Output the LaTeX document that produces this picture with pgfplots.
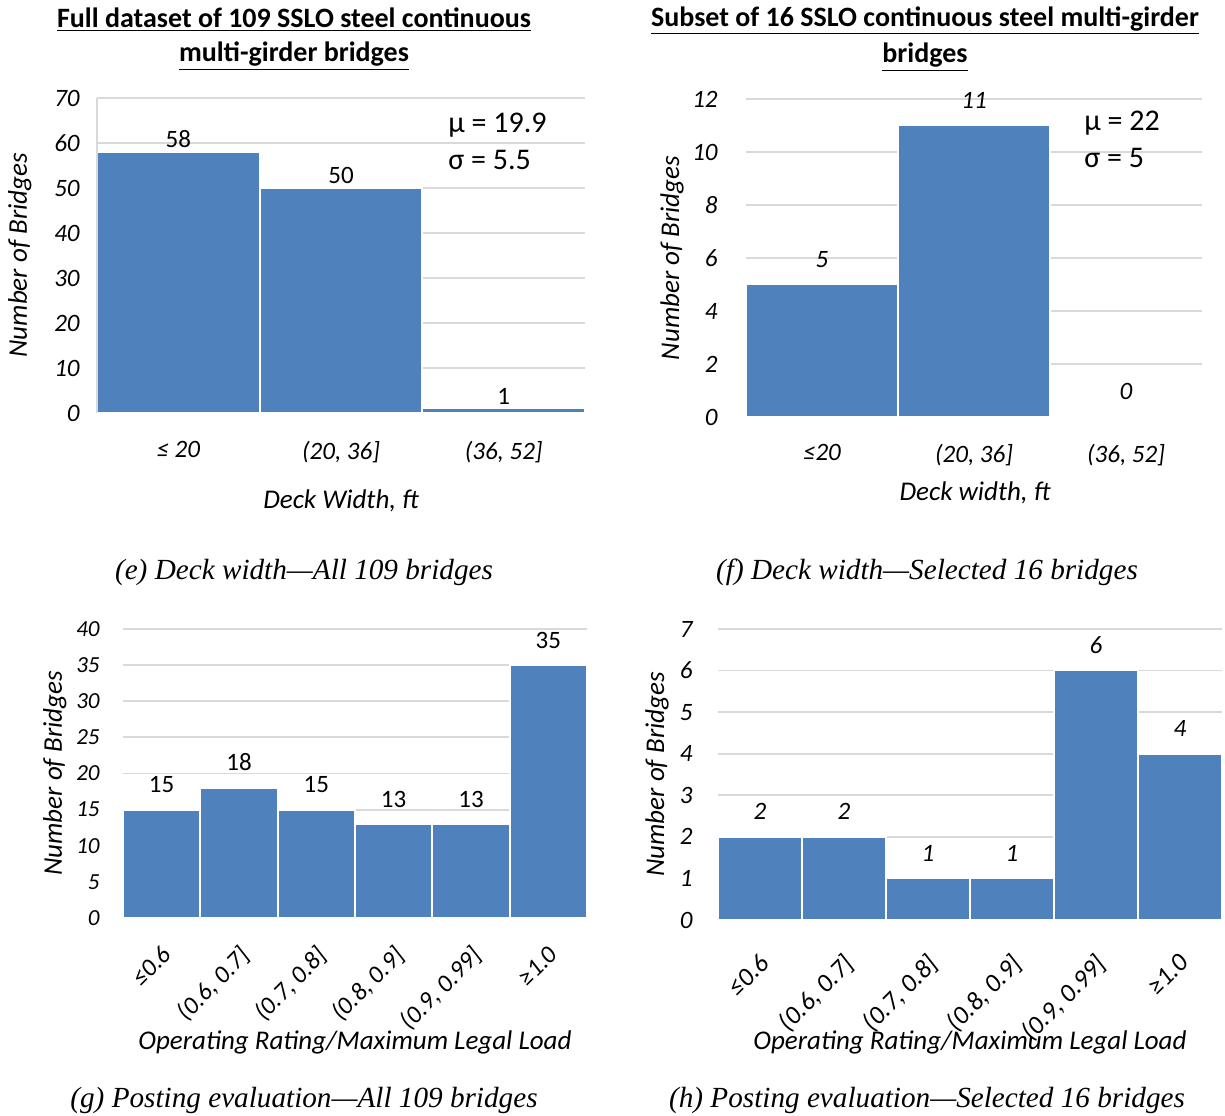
\documentclass[border=0pt]{standalone}
\usepackage{pgfplots}
\pgfplotsset{compat=1.18}
\usepackage{fontspec}
\setmainfont{Carlito}
\newfontfamily\capfont{Liberation Serif}
\definecolor{barblue}{RGB}{79,129,189}
\definecolor{gridgray}{RGB}{217,217,217}
\newcommand{\fs}[1]{\fontsize{#1}{#1}\selectfont}

\pgfplotsset{
  hist/.style={
    scale only axis,
    anchor=north west,
    ybar, bar width=1, bar shift=0pt,
    ymin=0,
    axis line style={draw=none},
    major tick length=0pt,
    ymajorgrids, grid style={gridgray, line width=0.9pt},
    xtick=data,
    /pgf/number format/assume math mode=true,
    tick label style={inner sep=0pt},
    yticklabel style={anchor=east},
    nodes near coords,
    every node near coord/.append style={anchor=south, inner sep=0pt, black},
    label style={font=\fs{13.5}\itshape},
    clip=false,
  },
  barstyle/.style={fill=barblue, draw=white, line width=0.9pt},
}

\begin{document}
\begin{tikzpicture}
\useasboundingbox (0,0) rectangle (612.5pt,-557.5pt);

% (e)
\begin{axis}[hist,
  at={(48.5pt,-49pt)}, width=244pt, height=157.5pt,
  ymax=70, ytick={0,10,...,70},
  xmin=-0.5, xmax=2.5,
  xticklabels={≤ 20,{(20, 36]},{(36, 52]}},
  yticklabel style={font=\fs{12.5}\itshape, xshift=-8.5pt},
  xticklabel style={font=\fs{12.5}\itshape, anchor=north, yshift=-14pt},
  every node near coord/.append style={font=\fs{12.5}, yshift=1.5pt},
  ylabel={Number of Bridges},
  ylabel style={at={(axis description cs:-0.158,0.5)}, anchor=center},
  xlabel={Deck Width, ft},
  xlabel style={at={(axis description cs:0.5,-0.28)}, anchor=center},
]
\addplot[barstyle] coordinates {(0,58) (1,50) (2,1)};
\draw[gridgray, line width=0.9pt] (rel axis cs:0,0) -- (rel axis cs:0,1);
\end{axis}

% (f)
\begin{axis}[hist,
  at={(373pt,-49.5pt)}, width=228pt, height=159pt,
  ymax=12, ytick={0,2,...,12},
  xmin=-0.5, xmax=2.5,
  xticklabels={≤20,{(20, 36]},{(36, 52]}},
  yticklabel style={font=\fs{12.5}\itshape, xshift=-14pt},
  xticklabel style={font=\fs{12.5}\itshape, anchor=north, yshift=-13.5pt},
  every node near coord/.append style={font=\fs{12.5}\itshape, yshift=8pt},
  ylabel={Number of Bridges},
  ylabel style={at={(axis description cs:-0.162,0.5)}, anchor=center},
  xlabel={Deck width, ft},
  xlabel style={at={(axis description cs:0.502,-0.24)}, anchor=center},
]
\addplot[barstyle] coordinates {(0,5) (1,11) (2,0)};
\end{axis}

% (g)
\begin{axis}[hist,
  at={(61.5pt,-314.5pt)}, width=232pt, height=144.5pt,
  ymax=40, ytick={0,5,...,40},
  xmin=-0.5, xmax=5.5,
  xticklabels={≤0.6,{(0.6, 0.7]},{(0.7, 0.8]},{(0.8, 0.9]},{(0.9, 0.99]},≥1.0},
  yticklabel style={font=\fs{11.5}\itshape, xshift=-11.5pt},
  xticklabel style={font=\fs{12.5}\itshape, xshift=-0.5pt, yshift=-13pt, rotate=45, anchor=north east},
  every node near coord/.append style={font=\fs{12.5}, yshift=8pt},
  ylabel={Number of Bridges},
  ylabel style={at={(axis description cs:-0.147,0.5)}, anchor=center},
  xlabel={Operating Rating/Maximum Legal Load},
  xlabel style={at={(axis description cs:0.5,-0.432)}, anchor=center},
]
\addplot[barstyle] coordinates {(0,15) (1,18) (2,15) (3,13) (4,13) (5,35)};
\end{axis}

% (h)
\begin{axis}[hist,
  at={(359pt,-314.5pt)}, width=252pt, height=145.5pt,
  ymax=7, ytick={0,1,...,7},
  xmin=-0.5, xmax=5.5,
  xticklabels={≤0.6,{(0.6, 0.7]},{(0.7, 0.8]},{(0.8, 0.9]},{(0.9, 0.99]},≥1.0},
  yticklabel style={font=\fs{12.5}\itshape, xshift=-12.5pt},
  xticklabel style={font=\fs{13}\itshape, xshift=-1pt, yshift=-16pt, rotate=45, anchor=north east},
  every node near coord/.append style={font=\fs{12.5}\itshape, yshift=8pt},
  ylabel={Number of Bridges},
  ylabel style={at={(axis description cs:-0.121,0.5)}, anchor=center},
  xlabel={Operating Rating/Maximum Legal Load},
  xlabel style={at={(axis description cs:0.5,-0.42)}, anchor=center},
]
\addplot[barstyle] coordinates {(0,2) (1,2) (2,1) (3,1) (4,6) (5,4)};
\end{axis}

% titles
\node[align=center, font=\fs{14}\bfseries] at (147pt,-19.5pt)
  {\underline{Full dataset of 109 SSLO steel continuous}\\[3pt]\underline{multi-girder bridges}};
\node[align=center, font=\fs{14}\bfseries] at (462.5pt,-19.5pt)
  {\underline{Subset of 16 SSLO continuous steel multi-girder}\\[3pt]\underline{bridges}};

% annotations
\node[anchor=west, inner sep=0pt, font=\fs{15}] at (224pt,-62.5pt) {μ = 19.9};
\node[anchor=west, inner sep=0pt, font=\fs{15}] at (224pt,-80pt) {σ = 5.5};
\node[anchor=west, inner sep=0pt, font=\fs{15}] at (542pt,-61.5pt) {μ = 22};
\node[anchor=west, inner sep=0pt, font=\fs{15}] at (542pt,-79pt) {σ = 5};

% captions
\node[font=\capfont\fs{14.6}\itshape] at (152pt,-286pt) {(e) Deck width—All 109 bridges};
\node[font=\capfont\fs{14.6}\itshape] at (463.5pt,-286pt) {(f) Deck width—Selected 16 bridges};
\node[font=\capfont\fs{14.6}\itshape] at (152pt,-550pt) {(g) Posting evaluation—All 109 bridges};
\node[font=\capfont\fs{14.6}\itshape] at (463.5pt,-550pt) {(h) Posting evaluation—Selected 16 bridges};
\end{tikzpicture}
\end{document}
